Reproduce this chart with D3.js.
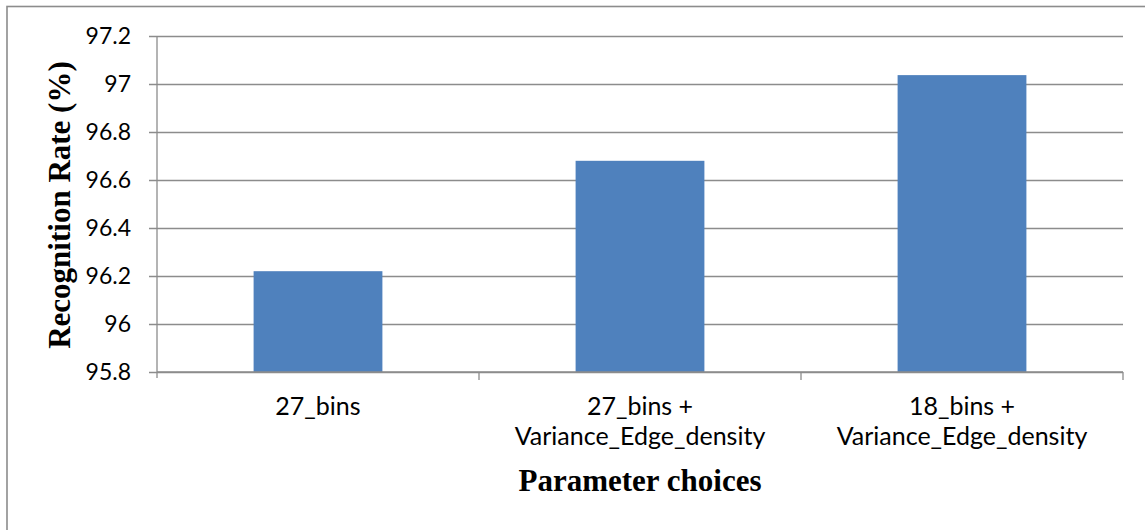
<!DOCTYPE html>
<html>
<head>
<meta charset="utf-8">
<script src="https://cdn.jsdelivr.net/npm/d3@7"></script>
<style>
  html, body { margin: 0; padding: 0; background: #fff; }
  svg { display: block; }
</style>
</head>
<body>
<svg id="chart" width="1145" height="530"></svg>
<script>
// Recognition rate for each parameter choice
const categories = [
  ["27_bins"],
  ["27_bins +", "Variance_Edge_density"],
  ["18_bins +", "Variance_Edge_density"]
];
const rates = [96.22, 96.68, 97.037];
const yTicks = [95.8, 96, 96.2, 96.4, 96.6, 96.8, 97, 97.2];

const W = 1145, H = 530;
const plot = { left: 157, right: 1123, top: 36, bottom: 372 };
const tickFont = "Lato, 'Open Sans', sans-serif";
const titleFont = "'Liberation Serif', 'Times New Roman', serif";
const gridColor = "#8c8c8c";

const svg = d3.select("#chart");

// outer frame of the chart area
svg.append("rect")
  .attr("x", 7).attr("y", 6.5)
  .attr("width", W + 10).attr("height", H + 10)
  .attr("fill", "#fff").attr("stroke", gridColor).attr("stroke-width", 1.6);

const x = d3.scaleBand()
  .domain(d3.range(categories.length))
  .range([plot.left, plot.right])
  .padding(0);

const y = d3.scaleLinear()
  .domain([95.8, 97.2])
  .range([plot.bottom, plot.top]);

// horizontal gridlines with outward ticks
const yAxis = d3.axisLeft(y)
  .tickValues(yTicks)
  .tickSize(-(plot.right - plot.left))
  .tickPadding(26)
  .tickFormat(d => d3.format("")(+d.toFixed(1)));

const gy = svg.append("g")
  .attr("transform", `translate(${plot.left},0)`)
  .call(yAxis);
gy.select(".domain").remove();
gy.selectAll(".tick line")
  .attr("x1", -8)
  .attr("stroke", gridColor).attr("stroke-width", 1.3);
gy.selectAll(".tick text")
  .attr("font-family", tickFont).attr("font-size", 23)
  .attr("dy", "0.34em")
  .attr("fill", "#000");

// vertical axis line
svg.append("line")
  .attr("x1", plot.left).attr("x2", plot.left)
  .attr("y1", plot.top).attr("y2", plot.bottom + 6)
  .attr("stroke", gridColor).attr("stroke-width", 1.3);

// bars
const barFrac = 0.4;
svg.append("g").selectAll("rect")
  .data(rates)
  .join("rect")
  .attr("x", (d, i) => x(i) + x.bandwidth() * (1 - barFrac) / 2)
  .attr("width", x.bandwidth() * barFrac)
  .attr("y", d => y(d))
  .attr("height", d => y(95.8) - y(d))
  .attr("fill", "#4F81BD");

// category axis with boundary ticks
const gx = svg.append("g");
gx.append("line")
  .attr("x1", plot.left).attr("x2", plot.right)
  .attr("y1", plot.bottom).attr("y2", plot.bottom)
  .attr("stroke", gridColor).attr("stroke-width", 1.3);
const bounds = d3.range(1, categories.length + 1).map(i => x(i - 1) + x.bandwidth());
gx.selectAll("line.tk")
  .data(bounds)
  .join("line").attr("class", "tk")
  .attr("x1", d => d).attr("x2", d => d)
  .attr("y1", plot.bottom).attr("y2", plot.bottom + 8)
  .attr("stroke", gridColor).attr("stroke-width", 1.3);

const labels = gx.selectAll("text.cat")
  .data(categories)
  .join("text").attr("class", "cat")
  .attr("x", (d, i) => x(i) + x.bandwidth() / 2)
  .attr("y", 415)
  .attr("text-anchor", "middle")
  .attr("font-family", tickFont).attr("font-size", 25)
  .attr("fill", "#000");
labels.selectAll("tspan")
  .data(d => d)
  .join("tspan")
  .attr("x", function () { return d3.select(this.parentNode).attr("x"); })
  .attr("dy", (d, i) => i === 0 ? 0 : 30)
  .text(d => d);

// axis titles
svg.append("text")
  .attr("x", (plot.left + plot.right) / 2)
  .attr("y", 491)
  .attr("text-anchor", "middle")
  .attr("font-family", titleFont).attr("font-weight", "bold").attr("font-size", 31)
  .text("Parameter choices");

svg.append("text")
  .attr("transform", `translate(70,205) rotate(-90)`)
  .attr("text-anchor", "middle")
  .attr("font-family", titleFont).attr("font-weight", "bold").attr("font-size", 31)
  .text("Recognition Rate (%)");
</script>
</body>
</html>
